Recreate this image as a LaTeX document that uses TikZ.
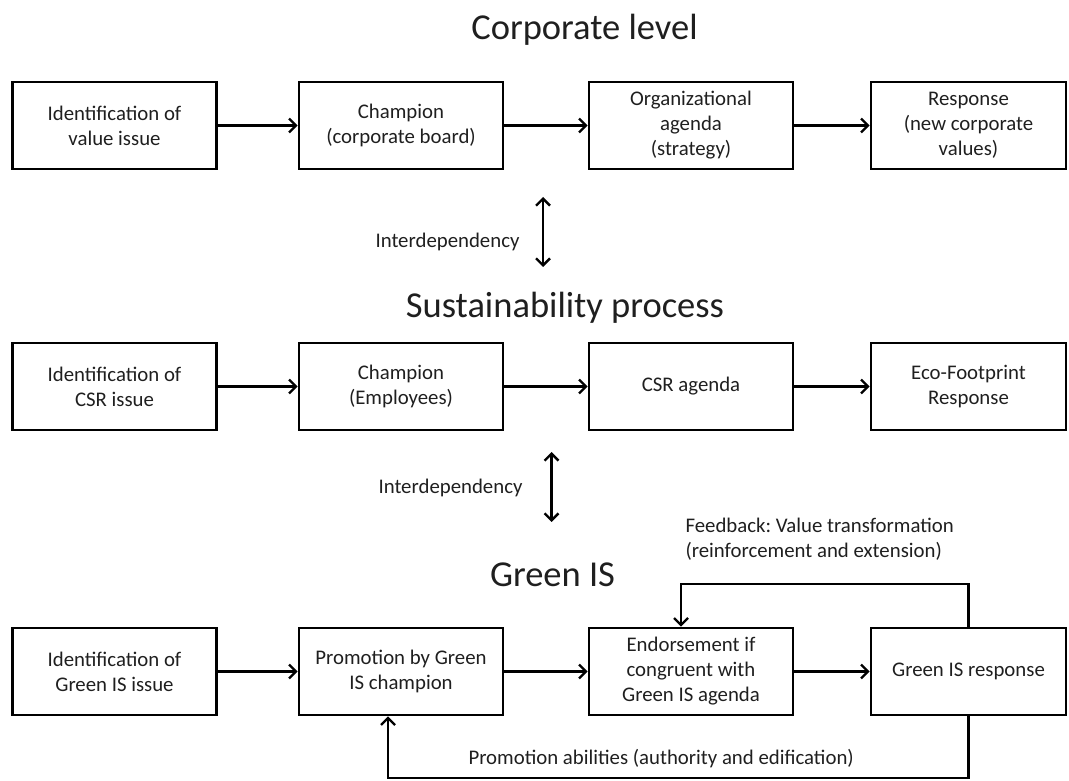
\documentclass[tikz,border=0pt]{standalone}
\usepackage{fontspec}
\setmainfont{Carlito}
\usetikzlibrary{arrows.meta}
\frenchspacing
\begin{document}
\begin{tikzpicture}[
x=1pt,y=1pt,
every node/.append style={font={\fontsize{20.8}{25}\selectfont},text=black!88},
caption/.style={font={\fontsize{36.5}{40}\selectfont},anchor=base},
stage/.style={draw,line width=2.6pt,minimum width=204pt,minimum height=87pt,align=center,inner sep=2pt},
comm/.style={->,line width=2.4pt},
msg/.style={align=left},
>={Straight Barb[length=7pt,width=14pt]},
]
\useasboundingbox (0,0) rectangle (1069,780);

% titles
\node[caption] (T1) at (584.5,740) {Corporate level};
\node[caption] (T2) at (565,462) {Sustainability process};
\node[caption] (T3) at (552.5,193) {Green IS};

% corporate level
\node[stage] (C1) at (114.5,654.5) {Identification of\\value issue};
\node[stage] (C2) at (401,654.5) {Champion\\(corporate board)};
\node[stage] (C3) at (691,654.5) {Organizational\\agenda\\(strategy)};
\node[stage,minimum width=195pt] (C4) at (968.5,654.5) {Response\\(new corporate\\values)};

% sustainability process
\node[stage] (S1) at (114.5,393.5) {Identification of\\CSR issue};
\node[stage] (S2) at (401,393.5) {Champion\\(Employees)};
\node[stage] (S3) at (691,393.5) {CSR agenda};
\node[stage,minimum width=195pt] (S4) at (968.5,393.5) {Eco-Footprint\\Response};

% green IS
\node[stage] (G1) at (114.5,108.5) {Identification of\\Green IS issue};
\node[stage] (G2) at (401,108.5) {Promotion by Green\\IS champion};
\node[stage] (G3) at (691,108.5) {Endorsement if\\congruent with\\Green IS agenda};
\node[stage,minimum width=195pt] (G4) at (968.5,108.5) {Green IS response};

\draw[comm] (C1)--(C2);
\draw[comm] (C2)--(C3);
\draw[comm] (C3)--(C4);
\draw[comm] (S1)--(S2);
\draw[comm] (S2)--(S3);
\draw[comm] (S3)--(S4);
\draw[comm] (G1)--(G2);
\draw[comm] (G2)--(G3);
\draw[comm] (G3)--(G4);

% interdependency
\coordinate (I1) at (543,583);
\coordinate (I2) at (543,513);
\coordinate (I3) at (551.5,328);
\coordinate (I4) at (551.5,258);
\draw[comm,<->] (I1)--(I2);
\draw[comm,<->] (I3)--(I4);
\node[anchor=base east] (L1) at (523,532) {Interdependency};
\node[anchor=base east] (L2) at (526,286) {Interdependency};

% feedback loops
\coordinate (F) at (681,196);
\coordinate (P) at (388,2);
\draw[comm] (G4.north) |- (F) -- (F |- G3.north);
\draw[comm] (G4.south) |- (P) -- (P |- G2.south);
\node[msg,anchor=west] (L3) at (682,240.5) {Feedback: Value transformation\\(reinforcement and extension)};
\node[msg,anchor=west] (L4) at (465,21) {Promotion abilities (authority and edification)};

\end{tikzpicture}
\end{document}
